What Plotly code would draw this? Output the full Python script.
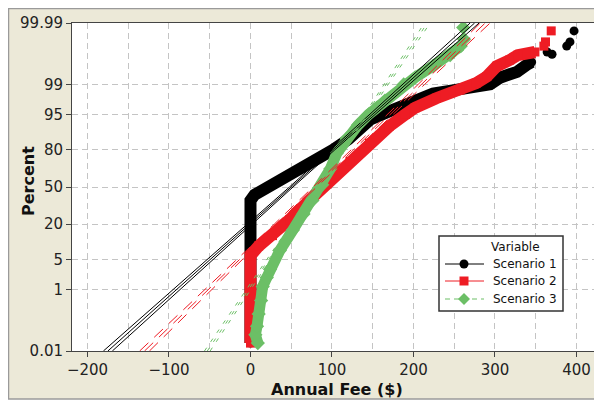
import plotly.graph_objects as go
from statistics import NormalDist

# ---------------- data ----------------
pct_ticks = [0.01, 1, 5, 20, 50, 80, 95, 99, 99.99]
pct_labels = ["0.01", "1", "5", "20", "50", "80", "95", "99", "99.99"]
fee_ticks = [-200, -100, 0, 100, 200, 300, 400]

# Scenario 1 (black circles)
s1_fee = [0, 0, 5, 28, 48, 69, 101, 120, 147, 175, 196, 224, 250, 270, 294, 306, 327, 339, 345]
s1_pct = [0.02, 38, 43, 52, 61, 69.5, 80, 86, 93.7, 96.0, 97.2, 98.3, 98.6, 98.85, 99.0, 99.34, 99.55, 99.72, 99.77]
s1_tail_fee = [364, 370, 388, 392, 397]
s1_tail_pct = [99.89, 99.87, 99.93, 99.95, 99.98]

# Scenario 2 (red squares)
s2_fee = [0, 0, 10, 27, 48, 69, 93, 122, 146, 170, 190, 202, 228, 257, 277, 290, 302, 318, 328, 349]
s2_pct = [0.02, 6, 9, 13.5, 23, 36, 53, 72, 84, 91.5, 95, 96.4, 97.8, 98.6, 99.08, 99.39, 99.69, 99.80, 99.86, 99.89]
s2_tail_fee = [360, 362, 369]
s2_tail_pct = [99.93, 99.95, 99.98]

# Scenario 3 (green diamonds)
s3_fee = [9, 6, 8, 10, 13, 15, 20, 24, 36, 52, 65, 76, 88, 98, 106, 118, 132, 145, 165, 188, 202, 224, 245, 258]
s3_pct = [0.02, 0.04, 0.08, 0.2, 0.5, 1.2, 2, 3.1, 7.5, 16.5, 27, 38, 52, 66, 78, 86.5, 92, 95, 97.5, 99.0, 99.35, 99.7, 99.86, 99.93]
s3_tail_fee = [262, 261]
s3_tail_pct = [99.96, 99.985]

# fitted normal lines with confidence bounds
ci_pct = [0.01, 1, 20, 50, 80, 99, 99.99]
s1_fit = [-175, -90.7, -0.9, 50, 100.9, 190.7, 275]
s1_lo = [-180.5, -94.7, -3.4, 47.8, 98.4, 186.7, 269.5]
s1_hi = [-169.5, -86.7, 1.6, 52.2, 103.4, 194.7, 280.5]
s2_fit = [-130, -51.7, 31.7, 79, 126.3, 209.7, 288]
s2_lo = [-136, -55.7, 29.2, 76.8, 123.8, 205.7, 282]
s2_hi = [-124, -47.7, 34.2, 81.2, 128.8, 213.7, 294]
s3_fit = [-53, -2.4, 51.4, 82, 112.6, 166.4, 217]
s3_lo = [-56.5, -4.9, 49.9, 80.7, 111.1, 163.9, 213.5]
s3_hi = [-49.5, 0.1, 52.9, 83.3, 114.1, 168.9, 220.5]

names = ["Scenario 1", "Scenario 2", "Scenario 3"]
legend_title = "Variable"
colors = ["#000000", "#ee1c24", "#6cbf66"]
symbols = ["circle", "square", "diamond"]

# ---------------- figure ----------------
nd = NormalDist()
def zs(ps):
    return [nd.inv_cdf(p / 100.0) for p in ps]

fig = go.Figure()

series = [
    (s1_fee, s1_pct, s1_tail_fee, s1_tail_pct, 12, 9),
    (s2_fee, s2_pct, s2_tail_fee, s2_tail_pct, 12, 9),
    (s3_fee, s3_pct, s3_tail_fee, s3_tail_pct, 11, 11),
]
for i, (fx, fp, tx, tp, lw, ms) in enumerate(series):
    fig.add_trace(go.Scatter(x=fx, y=zs(fp), mode="lines+markers",
                             line=dict(color=colors[i], width=lw),
                             marker=dict(symbol=symbols[i], size=ms, color=colors[i]),
                             showlegend=False, hoverinfo="skip"))
    fig.add_trace(go.Scatter(x=tx, y=zs(tp), mode="markers",
                             marker=dict(symbol=symbols[i], size=ms, color=colors[i]),
                             showlegend=False, hoverinfo="skip"))

fits = [(s1_fit, s1_lo, s1_hi, "solid"), (s2_fit, s2_lo, s2_hi, "12px,8px"), (s3_fit, s3_lo, s3_hi, "4px,7px")]
for i, (f, lo, hi, dash) in enumerate(fits):
    for arr in (lo, f, hi):
        fig.add_trace(go.Scatter(x=arr, y=zs(ci_pct), mode="lines",
                                 line=dict(color=colors[i], width=1, dash=dash),
                                 showlegend=False, hoverinfo="skip"))

# page has an 8px body margin: figure origin sits at page (8, 8)
OFF = 8
FW, FH = 602 - OFF, 404 - OFF
L, T, B, W = 72, 23, 351, 530          # reference page pixels of the plot area
H = B - T
ml, mt = L - OFF, T - OFF
mb = FH - (B - OFF)
mr = FW - ml - W

def px(x):
    return (x - L) / W
def py(y):
    return (B - y) / H

grid_style = dict(gridcolor="#c4c4c4", gridwidth=1, griddash="6px,4px")
fig.update_xaxes(range=[-219, 431.3], tickvals=fee_ticks, showline=True, linecolor="#444",
                 linewidth=1, mirror=True, ticks="outside", ticklen=5, tickcolor="#444",
                 zeroline=False, showgrid=True,
                 minor=dict(dtick=50, tick0=0, showgrid=True, ticks="", **grid_style),
                 tickfont=dict(size=15, color="#222"), **grid_style)
fig.update_yaxes(range=[nd.inv_cdf(0.0001), nd.inv_cdf(0.9999)], tickvals=zs(pct_ticks),
                 ticktext=pct_labels, showline=True, linecolor="#444", linewidth=1,
                 ticks="outside", ticklen=5, tickcolor="#444", zeroline=False,
                 showgrid=True, tickfont=dict(size=15, color="#222"), **grid_style)

shapes = [
    dict(type="rect", xref="paper", yref="paper", x0=px(8.5), x1=px(606), y0=py(399),
         y1=py(8.5), fillcolor="#ECE9D8", line=dict(color="#9a9a9a", width=1.5), layer="below"),
    dict(type="rect", xref="paper", yref="paper", x0=0, x1=1, y0=0, y1=1,
         fillcolor="white", line=dict(width=0), layer="below"),
    # legend box
    dict(type="rect", xref="paper", yref="paper", x0=px(439), x1=px(563), y0=py(311),
         y1=py(236), fillcolor="white", line=dict(color="#333", width=1.5)),
]
annotations = [
    dict(text="Annual Fee ($)", xref="paper", yref="paper", x=0.5, y=py(389),
         showarrow=False, font=dict(size=16, weight="bold", color="#111"),
         xanchor="center", yanchor="middle"),
    dict(text="Percent", xref="paper", yref="paper", x=px(28), y=py(181),
         showarrow=False, textangle=-90, font=dict(size=16, weight="bold", color="#111"),
         xanchor="center", yanchor="middle"),
    dict(text=legend_title, xref="paper", yref="paper", x=px(515), y=py(247),
         showarrow=False, font=dict(size=12, color="#111"), xanchor="center", yanchor="middle"),
]

row_y = [264, 281, 299]
line_dash = ["solid", "solid", "5px,4px"]
msize = [4.5, 4.5, 6]
mx = 464
for i in range(3):
    yy = row_y[i]
    shapes.append(dict(type="line", xref="paper", yref="paper", x0=px(445), x1=px(484),
                       y0=py(yy), y1=py(yy), line=dict(color=colors[i], width=1, dash=line_dash[i])))
    r = msize[i]
    if symbols[i] == "circle":
        shapes.append(dict(type="circle", xref="paper", yref="paper", x0=px(mx - r), x1=px(mx + r),
                           y0=py(yy + r), y1=py(yy - r), fillcolor=colors[i], line=dict(width=0)))
    elif symbols[i] == "square":
        shapes.append(dict(type="rect", xref="paper", yref="paper", x0=px(mx - r), x1=px(mx + r),
                           y0=py(yy + r), y1=py(yy - r), fillcolor=colors[i], line=dict(width=0)))
    else:
        path = "M {} {} L {} {} L {} {} L {} {} Z".format(
            px(mx - r), py(yy), px(mx), py(yy - r), px(mx + r), py(yy), px(mx), py(yy + r))
        shapes.append(dict(type="path", xref="paper", yref="paper", path=path,
                           fillcolor=colors[i], line=dict(width=0)))
    annotations.append(dict(text=names[i], xref="paper", yref="paper", x=px(491), y=py(yy),
                            showarrow=False, font=dict(size=12, color="#111"),
                            xanchor="left", yanchor="middle"))

fig.update_layout(
    width=FW, height=FH,
    margin=dict(l=ml, r=mr, t=mt, b=mb, pad=0),
    paper_bgcolor="white", plot_bgcolor="rgba(0,0,0,0)",
    font=dict(family="DejaVu Sans", size=15, color="#222"),
    showlegend=False,
    shapes=shapes,
    annotations=annotations,
)

fig.write_html("out.html")
